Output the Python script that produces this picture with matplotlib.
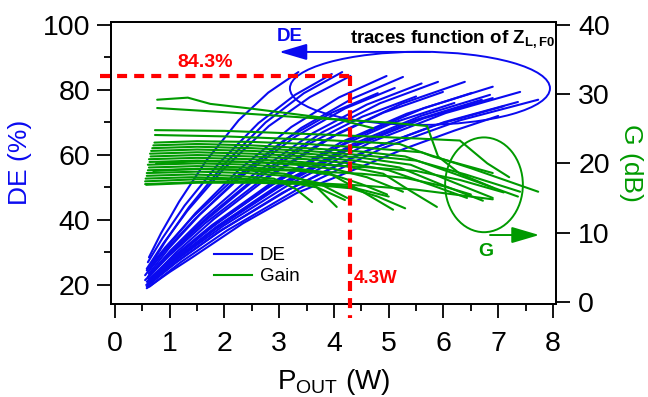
import numpy as np
import matplotlib
matplotlib.use('Agg')
import matplotlib.pyplot as plt
from matplotlib.patches import Ellipse
from matplotlib.ticker import MultipleLocator
from matplotlib.lines import Line2D

plt.rcParams['font.family'] = ['Liberation Sans', 'DejaVu Sans']
plt.rcParams['mathtext.fontset'] = 'custom'
plt.rcParams['mathtext.rm'] = 'Liberation Sans'
plt.rcParams['mathtext.bf'] = 'Liberation Sans:bold'

# DE traces (Pout in W, drain efficiency in %), one list per load impedance
de_pout = [
    [0.62, 0.84, 1.17, 1.66, 2.26, 2.80, 3.35],
    [0.60, 0.87, 1.27, 1.88, 2.62, 3.29, 3.96],
    [0.65, 0.93, 1.35, 1.98, 2.75, 3.45, 4.15],
    [0.58, 0.88, 1.32, 1.99, 2.81, 3.56, 4.30],
    [0.60, 0.95, 1.47, 2.26, 3.22, 4.09, 4.96],
    [0.62, 0.99, 1.55, 2.38, 3.40, 4.33, 5.26],
    [0.55, 0.91, 1.46, 2.28, 3.29, 4.20, 5.11],
    [0.60, 1.02, 1.66, 2.61, 3.78, 4.84, 5.90],
    [0.65, 1.11, 1.80, 2.83, 4.09, 5.24, 6.39],
    [0.55, 0.99, 1.64, 2.62, 3.81, 4.90, 5.99],
    [0.60, 1.10, 1.86, 2.99, 4.38, 5.64, 6.90],
    [0.58, 1.06, 1.77, 2.84, 4.14, 5.33, 6.52],
    [0.62, 1.16, 1.98, 3.20, 4.69, 6.04, 7.40],
    [0.60, 1.10, 1.85, 2.98, 4.35, 5.60, 6.85],
    [0.57, 1.08, 1.84, 2.98, 4.37, 5.63, 6.90],
    [0.60, 1.14, 1.95, 3.17, 4.66, 6.01, 7.36],
    [0.63, 1.20, 2.05, 3.33, 4.89, 6.31, 7.73],
    [0.60, 1.09, 1.82, 2.92, 4.26, 5.48, 6.70],
    [0.58, 1.00, 1.42, 2.34, 3.32, 4.30, 5.30, 6.20, 7.00],
    [0.58, 0.92, 1.42, 2.18, 3.11, 3.96, 4.80],
    [0.60, 0.99, 1.58, 2.46, 3.54, 4.52, 5.50],
    [0.60, 1.05, 1.72, 2.73, 3.96, 5.08, 6.20],
    [0.62, 1.02, 1.62, 2.51, 3.61, 4.60, 5.60],
    [0.58, 1.10, 1.88, 3.06, 4.49, 5.80, 7.10],
]
de_val = [
    [28.5, 35.9, 45.6, 58.1, 70.7, 79.2, 85.5],
    [27.0, 34.5, 44.4, 57.1, 69.8, 78.5, 84.9],
    [26.0, 33.7, 43.9, 56.9, 70.0, 79.0, 85.5],
    [25.0, 32.7, 42.8, 55.8, 68.9, 77.8, 84.3],
    [24.0, 31.8, 42.1, 55.4, 68.6, 77.7, 84.3],
    [23.5, 31.4, 41.7, 55.0, 68.3, 77.3, 84.0],
    [23.0, 30.5, 40.3, 53.0, 65.6, 74.3, 80.6],
    [22.5, 30.3, 40.5, 53.7, 66.9, 75.9, 82.5],
    [22.0, 29.9, 40.2, 53.5, 66.8, 75.8, 82.5],
    [21.5, 29.0, 38.9, 51.6, 64.3, 73.0, 79.4],
    [21.0, 28.8, 39.0, 52.2, 65.4, 74.4, 81.0],
    [21.0, 28.6, 38.4, 51.2, 64.0, 72.7, 79.1],
    [20.5, 28.2, 38.2, 51.1, 64.1, 72.9, 79.4],
    [20.5, 28.0, 37.9, 50.7, 63.4, 72.1, 78.5],
    [20.0, 27.5, 37.3, 49.9, 62.6, 71.2, 77.5],
    [20.0, 27.3, 36.9, 49.3, 61.7, 70.1, 76.3],
    [19.5, 27.0, 36.8, 49.4, 62.1, 70.7, 77.0],
    [20.0, 27.4, 37.1, 49.6, 62.2, 70.7, 77.0],
    [19.0, 24.0, 28.6, 39.0, 48.3, 55.0, 62.0, 67.5, 72.0],
    [24.5, 31.6, 40.9, 52.8, 64.8, 73.0, 79.0],
    [22.0, 29.3, 38.8, 51.1, 63.4, 71.8, 78.0],
    [20.5, 27.7, 37.2, 49.4, 61.6, 69.9, 76.0],
    [23.0, 30.7, 40.7, 53.7, 66.7, 75.5, 82.0],
    [19.5, 26.7, 36.2, 48.4, 60.6, 68.9, 75.0],
]

# Gain traces (Pout in W, gain in dB)
g_pout = [
    [0.77, 1.33, 1.74, 2.50, 3.30, 4.10, 4.71],
    [0.77, 2.00, 3.50, 5.00, 5.70, 5.90, 6.30, 6.90],
    [0.73, 2.00, 4.00, 5.50, 6.30, 6.80, 7.20],
    [0.73, 2.00, 4.00, 5.20, 5.80, 6.90],
    [0.72, 1.50, 2.50, 3.50, 4.50, 5.60, 6.50, 7.73],
    [0.70, 1.50, 2.50, 3.50, 4.50, 5.30, 6.20, 7.36],
    [0.68, 1.50, 2.50, 3.50, 4.50, 5.50, 6.40, 7.40],
    [0.66, 1.50, 2.50, 3.50, 4.50, 5.40, 6.20, 6.90],
    [0.64, 1.50, 2.50, 3.50, 4.40, 5.20, 6.00, 6.72],
    [0.65, 1.50, 2.50, 3.50, 4.30, 5.00, 5.80, 6.43],
    [0.62, 1.50, 2.50, 3.40, 4.20, 4.90, 5.40, 5.88],
    [0.63, 1.50, 2.50, 3.30, 4.00, 4.60, 5.26],
    [0.60, 1.50, 2.50, 3.20, 3.90, 4.50, 5.08],
    [0.62, 1.50, 2.50, 3.30, 4.00, 4.50, 4.97],
    [0.60, 1.50, 2.40, 3.10, 3.60, 4.05],
    [0.58, 1.50, 2.40, 3.10, 3.70, 4.24],
    [0.58, 1.40, 2.20, 2.90, 3.30, 3.60],
    [0.56, 1.40, 2.30, 3.10, 3.70, 4.20],
    [0.55, 1.50, 2.50, 3.40, 4.30, 5.00],
    [0.55, 1.50, 2.50, 3.50, 4.50, 5.50, 6.90],
    [0.57, 1.50, 2.50, 3.50, 4.30, 4.80, 5.30],
    [0.75, 1.50, 2.50, 3.50, 4.50, 5.50, 6.30, 7.10],
    [0.70, 1.50, 2.50, 3.50, 4.50, 5.30, 6.00, 6.50],
]
g_val = [
    [29.2, 29.5, 28.6, 27.9, 27.1, 26.3, 25.1],
    [28.0, 27.4, 26.6, 25.9, 25.4, 21.0, 18.5, 16.5],
    [24.8, 24.7, 24.1, 23.6, 23.3, 20.0, 18.0],
    [24.1, 23.9, 23.3, 22.8, 21.0, 18.6],
    [23.0, 23.2, 23.1, 22.8, 22.3, 21.6, 19.3, 15.9],
    [22.6, 22.8, 22.6, 22.2, 21.7, 21.0, 18.5, 15.2],
    [22.2, 22.4, 22.2, 21.8, 21.2, 20.4, 18.4, 15.9],
    [21.8, 22.0, 21.8, 21.4, 20.8, 19.8, 17.2, 15.0],
    [21.4, 21.6, 21.4, 21.0, 20.4, 19.4, 16.8, 14.6],
    [21.0, 21.2, 21.0, 20.6, 20.0, 19.0, 16.8, 15.0],
    [20.6, 20.8, 20.6, 20.2, 19.6, 18.5, 16.0, 13.7],
    [20.2, 20.4, 20.2, 19.8, 19.2, 18.0, 15.9],
    [19.8, 20.0, 19.8, 19.4, 18.6, 16.0, 13.3],
    [19.4, 19.6, 19.4, 19.0, 18.3, 17.0, 15.5],
    [19.0, 19.2, 19.0, 18.5, 17.2, 13.7],
    [18.6, 18.8, 18.6, 18.2, 17.2, 15.0],
    [18.2, 18.4, 18.2, 17.8, 16.3, 14.4],
    [17.8, 18.0, 17.8, 17.4, 16.5, 14.7],
    [17.4, 17.7, 17.6, 17.3, 16.6, 15.2],
    [17.0, 17.3, 17.3, 17.2, 16.8, 16.2, 14.8],
    [16.9, 17.2, 17.2, 17.0, 16.4, 15.2, 13.5],
    [20.0, 20.3, 20.2, 19.9, 19.5, 18.9, 17.6, 15.8],
    [18.9, 19.2, 19.1, 18.9, 18.5, 17.9, 16.7, 15.5],
]

pk_pout = 4.3
pk_de = 84.3

blue = '#0a0af0'
green = '#009a00'
red = '#ff0000'

fig = plt.figure(figsize=(6.48, 3.97), dpi=100)
ax = fig.add_axes([0.1713, 0.2355, 0.6867, 0.709])
ax2 = ax.twinx()

for xs, ys in zip(de_pout, de_val):
    ax.plot(xs, ys, color=blue, lw=1.5, solid_capstyle='round')
for xs, ys in zip(g_pout, g_val):
    ax2.plot(xs, ys, color=green, lw=1.5, solid_capstyle='round')

ax.set_xlim(-0.073, 8.055)
ax.set_ylim(14.3, 100.9)
ax2.set_ylim(-0.26, 40.43)

ax.set_xticks(range(0, 9))
ax.xaxis.set_minor_locator(MultipleLocator(0.5))
ax.set_yticks([20, 40, 60, 80, 100])
ax.yaxis.set_minor_locator(MultipleLocator(10))
ax2.set_yticks([0, 10, 20, 30, 40])

for a in (ax, ax2):
    for s in a.spines.values():
        s.set_linewidth(1.3)
ax.tick_params(axis='both', which='major', labelsize=20.5, direction='out',
               length=10, width=1.3, pad=5)
ax.tick_params(axis='both', which='minor', direction='out', length=5, width=1.3)
ax.tick_params(axis='x', which='major', pad=10)
ax2.tick_params(axis='y', which='major', labelsize=20.5, direction='out',
                length=10, width=1.3, pad=6)

ax.set_ylabel('DE (%)', color=blue, fontsize=19, labelpad=8)
ax2.set_ylabel('G (dB)', color=green, fontsize=19, rotation=-90, labelpad=24)
ax.set_xlabel(r'P$_\mathregular{OUT}$ (W)', fontsize=20, labelpad=7)

# peak markers
ax2.plot([-0.27, pk_pout], [pk_de, pk_de], transform=ax.transData, color=red,
         lw=3, linestyle=(0, (2.4, 1.7)), clip_on=False, zorder=10)
ax2.plot([pk_pout, pk_pout], [pk_de, 9.8], transform=ax.transData, color=red,
         lw=3, linestyle=(0, (2.4, 1.7)), clip_on=False, zorder=10)
ax2.text(1.64, 88.6, '84.3%', transform=ax.transData, color=red, fontsize=14,
         fontweight='bold', ha='center', va='center')
ax2.text(4.36, 22.0, '4.3W', transform=ax.transData, color=red, fontsize=13.5,
         fontweight='bold', ha='left', va='center')

# DE group annotation
ax.add_patch(Ellipse((5.57, 80.5), 4.75, 22.5, fill=False, ec=blue, lw=1.4))
ax.annotate('', xy=(3.0, 91.7), xytext=(5.75, 91.7),
            arrowprops=dict(arrowstyle='-|>,head_length=0.85,head_width=0.25',
                            mutation_scale=20, color=blue, lw=1.4,
                            shrinkA=0, shrinkB=0))
ax.text(3.2, 96.3, 'DE', color=blue, fontsize=13.5, fontweight='bold',
        ha='center', va='center')
ax2.text(8.04, 37.8, r'traces function of Z$_\mathbf{L,F0}$', color='black',
         fontsize=13.5, fontweight='bold', ha='right', va='center')

# Gain group annotation
ax2.add_patch(Ellipse((6.74, 16.9), 1.42, 13.7, fill=False, ec=green, lw=1.4))
ax2.annotate('', xy=(7.75, 9.64), xytext=(6.85, 9.64),
             arrowprops=dict(arrowstyle='-|>,head_length=0.85,head_width=0.25',
                             mutation_scale=20, color=green, lw=1.4,
                             shrinkA=0, shrinkB=0))
ax2.text(6.78, 7.3, 'G', color=green, fontsize=14, fontweight='bold',
         ha='center', va='center')

handles = [Line2D([], [], color=blue, lw=1.5), Line2D([], [], color=green, lw=1.5)]
ax2.legend(handles, ['DE', 'Gain'], loc='upper left', bbox_to_anchor=(0.2315, 0.2),
           frameon=False, fontsize=13.5, handlelength=2.0, handletextpad=0.45,
           borderpad=0, borderaxespad=0, labelspacing=0.2)

fig.savefig('out.png', dpi=100)
